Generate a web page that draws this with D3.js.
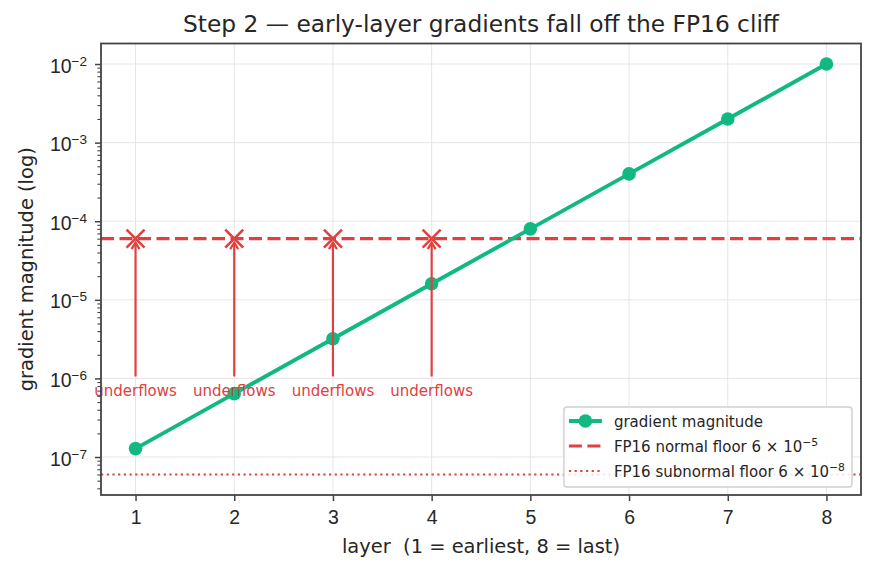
<!DOCTYPE html>
<html>
<head>
<meta charset="utf-8">
<script src="https://cdn.jsdelivr.net/npm/d3@7"></script>
<style>
  body { margin: 0; background: #fff; }
  svg { display: block; font-family: "DejaVu Sans", sans-serif; }
</style>
</head>
<body>
<div id="chart"></div>
<script>
// values
const layers = [1, 2, 3, 4, 5, 6, 7, 8];
const gradMagnitude = [1.28e-7, 6.4e-7, 3.2e-6, 1.6e-5, 8e-5, 4e-4, 2e-3, 1e-2];
const underflowLayers = [1, 2, 3, 4];
const normalFloor = 6e-5;
const subnormalFloor = 6e-8;
const yTickExponents = [-7, -6, -5, -4, -3, -2];
const titleText = "Step 2 — early-layer gradients fall off the FP16 cliff";
const xLabelText = "layer  (1 = earliest, 8 = last)";
const yLabelText = "gradient magnitude (log)";
const annotationText = "underflows";
const legendLabels = ["gradient magnitude", "FP16 normal floor 6 × 10", "FP16 subnormal floor 6 × 10"];
const legendSups = ["", "−5", "−8"];

const green = "#10b981";
const red = "#e0403f";
const axisColor = "#444";
const textColor = "#262626";

const width = 874;
const height = 569;
const margin = { top: 43.5, right: 13, bottom: 74, left: 101 };

const svg = d3.select('#chart')
    .append('svg')
    .attr('width', width)
    .attr('height', height);

// matplotlib-like 5% padding
const xScale = d3.scaleLinear()
    .domain([0.65, 8.35])
    .range([margin.left, width - margin.right]);

const lo = Math.log10(Math.min(subnormalFloor, d3.min(gradMagnitude)));
const hi = Math.log10(d3.max(gradMagnitude));
const pad = (hi - lo) * 0.05;
const yScale = d3.scaleLog()
    .domain([10 ** (lo - pad), 10 ** (hi + pad)])
    .range([height - margin.bottom, margin.top]);

const x0 = margin.left, x1 = width - margin.right;
const y0 = height - margin.bottom, y1 = margin.top;

// grid
const grid = svg.append('g').attr('stroke', '#e6e6e6').attr('stroke-width', 1);
grid.selectAll('.gx').data(layers).join('line')
    .attr('x1', d => xScale(d)).attr('x2', d => xScale(d))
    .attr('y1', y0).attr('y2', y1);
grid.selectAll('.gy').data(yTickExponents).join('line')
    .attr('x1', x0).attr('x2', x1)
    .attr('y1', d => yScale(10 ** d)).attr('y2', d => yScale(10 ** d));

// floors
svg.append('line')
    .attr('x1', x0).attr('x2', x1)
    .attr('y1', yScale(subnormalFloor)).attr('y2', yScale(subnormalFloor))
    .attr('stroke', red).attr('stroke-width', 2.2)
    .attr('stroke-dasharray', '2.2,3.5');

svg.append('line')
    .attr('x1', x0).attr('x2', x1)
    .attr('y1', yScale(normalFloor)).attr('y2', yScale(normalFloor))
    .attr('stroke', red).attr('stroke-width', 3.2)
    .attr('stroke-dasharray', '13,5.5');

// gradient line
const points = layers.map((l, i) => [l, gradMagnitude[i]]);
svg.append('path')
    .datum(points)
    .attr('fill', 'none')
    .attr('stroke', green)
    .attr('stroke-width', 3.9)
    .attr('d', d3.line().x(d => xScale(d[0])).y(d => yScale(d[1])));

svg.append('g')
    .selectAll('circle')
    .data(points)
    .join('circle')
    .attr('cx', d => xScale(d[0]))
    .attr('cy', d => yScale(d[1]))
    .attr('r', 6.8)
    .attr('fill', green);

// underflow crosses
const xs = 9;
const cross = svg.append('g')
    .attr('stroke', red).attr('stroke-width', 2.6)
    .selectAll('g')
    .data(underflowLayers)
    .join('g')
    .attr('transform', d => `translate(${xScale(d)},${yScale(normalFloor)})`);
cross.append('line').attr('x1', -xs).attr('y1', -xs).attr('x2', xs).attr('y2', xs);
cross.append('line').attr('x1', -xs).attr('y1', xs).attr('x2', xs).attr('y2', -xs);

// annotation arrows + text
const ann = svg.append('g')
    .selectAll('g')
    .data(underflowLayers)
    .join('g')
    .attr('transform', d => `translate(${xScale(d)},0)`);

const arrowTop = yScale(normalFloor) + 3.9;
const arrowBottom = yScale(1e-6) - 2;
ann.append('line')
    .attr('x1', 0).attr('x2', 0)
    .attr('y1', arrowBottom).attr('y2', arrowTop + 1)
    .attr('stroke', red).attr('stroke-width', 2.2);
ann.append('path')
    .attr('d', `M-4,${arrowTop + 6.5}L0,${arrowTop}L4,${arrowTop + 6.5}`)
    .attr('fill', 'none')
    .attr('stroke', red).attr('stroke-width', 2.2)
    .attr('stroke-linejoin', 'miter');
ann.append('text')
    .attr('y', yScale(1e-6) + 18)
    .attr('text-anchor', 'middle')
    .attr('fill', red)
    .style('font-size', '15px')
    .text(annotationText);

// axes
const yAxis = svg.append('g')
    .attr('transform', `translate(${x0},0)`)
    .call(d3.axisLeft(yScale)
        .tickValues(yTickExponents.map(e => 10 ** e))
        .tickSize(6).tickPadding(8)
        .tickFormat(''));
yAxis.select('.domain').remove();
yAxis.selectAll('.tick line').attr('stroke', axisColor).attr('stroke-width', 1.5);
yAxis.selectAll('.tick text')
    .attr('dy', null)
    .attr('y', 8)
    .attr('fill', textColor)
    .style('font-size', '19.44px')
    .each(function(d) {
        const t = d3.select(this);
        const e = Math.round(Math.log10(d));
        t.append('tspan').text('10');
        t.append('tspan').attr('dy', -7).style('font-size', '13.6px').text('−' + Math.abs(e));
    });

// minor ticks
const minorVals = [];
for (let e = -8; e <= -2; e++) {
    for (let m = 2; m <= 9; m++) {
        const v = m * 10 ** e;
        if (v >= yScale.domain()[0] && v <= yScale.domain()[1]) minorVals.push(v);
    }
}
const yMinor = svg.append('g')
    .attr('transform', `translate(${x0},0)`)
    .call(d3.axisLeft(yScale).tickValues(minorVals).tickSize(3.6).tickFormat(''));
yMinor.select('.domain').remove();
yMinor.selectAll('.tick line').attr('stroke', axisColor).attr('stroke-width', 1.1);

const xAxis = svg.append('g')
    .attr('transform', `translate(0,${y0})`)
    .call(d3.axisBottom(xScale).tickValues(layers).tickSize(6).tickFormat(d3.format('d')));
xAxis.select('.domain').remove();
xAxis.selectAll('.tick line').attr('stroke', axisColor).attr('stroke-width', 1.5);
xAxis.selectAll('.tick text')
    .attr('dy', null)
    .attr('y', 29)
    .attr('fill', textColor)
    .style('font-size', '19.44px');

// frame
svg.append('rect')
    .attr('x', x0).attr('y', y1)
    .attr('width', x1 - x0).attr('height', y0 - y1)
    .attr('fill', 'none')
    .attr('stroke', axisColor)
    .attr('stroke-width', 1.8);

// labels
svg.append('text')
    .attr('x', (x0 + x1) / 2).attr('y', 31.5)
    .attr('text-anchor', 'middle')
    .attr('fill', textColor)
    .style('font-size', '23.3px')
    .text(titleText);

svg.append('text')
    .attr('x', (x0 + x1) / 2).attr('y', 553)
    .attr('text-anchor', 'middle')
    .attr('fill', textColor)
    .style('font-size', '19.44px')
    .style('white-space', 'pre')
    .text(xLabelText);

svg.append('text')
    .attr('transform', `translate(32.5,${(y0 + y1) / 2}) rotate(-90)`)
    .attr('text-anchor', 'middle')
    .attr('fill', textColor)
    .style('font-size', '19.44px')
    .text(yLabelText);

// legend
const legend = svg.append('g');
const box = legend.append('rect')
    .attr('fill', 'white').attr('fill-opacity', 0.85)
    .attr('stroke', '#cfcfcf').attr('stroke-width', 1.4)
    .attr('rx', 3);

const boxRight = 852, boxBottom = 487;
const rowY = [421, 446, 471];
const entries = legend.selectAll('.entry')
    .data(legendLabels)
    .join('g')
    .attr('class', 'entry')
    .attr('transform', (d, i) => `translate(0,${rowY[i]})`);

const texts = entries.append('text')
    .attr('y', 5.5)
    .attr('fill', textColor)
    .style('font-size', '15px')
    .each(function(d, i) {
        const t = d3.select(this);
        t.append('tspan').text(d);
        if (legendSups[i]) {
            t.append('tspan').attr('dy', -6).style('font-size', '10.8px').text(legendSups[i]);
        }
    });

const maxW = d3.max(texts.nodes(), n => n.getComputedTextLength());
const textX = boxRight - 7 - maxW;
const handleX1 = textX - 12, handleX0 = handleX1 - 33;
texts.attr('x', textX);

entries.each(function(d, i) {
    const g = d3.select(this);
    const l = g.append('line')
        .attr('x1', handleX0).attr('x2', handleX1)
        .attr('y1', 0).attr('y2', 0)
        .attr('stroke', i === 0 ? green : red);
    if (i === 0) {
        l.attr('stroke-width', 3.9);
        g.append('circle').attr('cx', (handleX0 + handleX1) / 2).attr('r', 6.8).attr('fill', green);
    } else if (i === 1) {
        l.attr('stroke-width', 3.2).attr('stroke-dasharray', '13,5.5');
    } else {
        l.attr('stroke-width', 2.2).attr('stroke-dasharray', '2.2,3.5');
    }
});

const boxLeft = handleX0 - 5;
box.attr('x', boxLeft).attr('y', 407)
    .attr('width', boxRight - boxLeft)
    .attr('height', boxBottom - 407);
</script>
</body>
</html>
